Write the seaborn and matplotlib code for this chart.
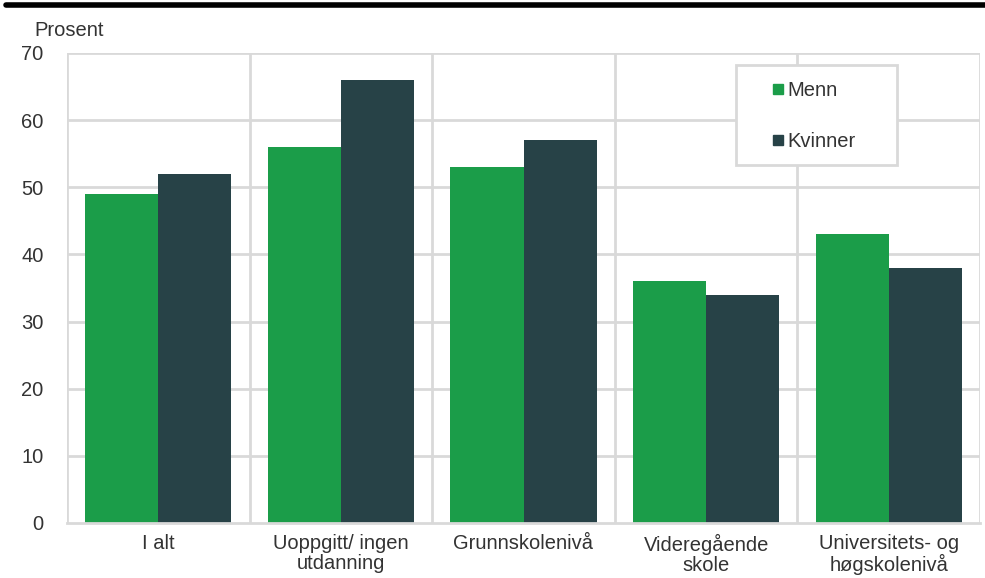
import matplotlib
matplotlib.use("Agg")
import matplotlib.pyplot as plt
import seaborn as sns
import pandas as pd
from matplotlib.lines import Line2D
from matplotlib.patches import Rectangle

categories = ["I alt", "Uoppgitt/ ingen\nutdanning", "Grunnskolenivå", "Videregående\nskole", "Universitets- og\nhøgskolenivå"]
menn = [49, 56, 53, 36, 43]
kvinner = [52, 66, 57, 34, 38]
series = ["Menn", "Kvinner"]
colors = ["#1b9d49", "#274247"]
yticks = [0, 10, 20, 30, 40, 50, 60, 70]

df = pd.DataFrame({
    "Kategori": categories * 2,
    "Verdi": menn + kvinner,
    "Kjønn": [series[0]] * len(categories) + [series[1]] * len(categories),
})

sns.set_style("white")
plt.rcParams["font.family"] = ["Liberation Sans", "DejaVu Sans"]
grid_c = "#d9d9d9"
txt_c = "#333333"
fs = 14.5

W, H = 985, 578
fig = plt.figure(figsize=(W/100, H/100), dpi=100)
ax = fig.add_axes([67/W, 1 - 523/H, (980-67)/W, (523-53)/H])

sns.barplot(data=df, x="Kategori", y="Verdi", hue="Kjønn", palette=colors,
            width=0.8, saturation=1, ax=ax, zorder=3, legend=False, linewidth=0)

ax.set_xlim(-0.5, len(categories) - 0.5)
ax.set_ylim(0, 70)
ax.set_yticks(yticks)
for y in yticks[1:]:
    ax.axhline(y, color=grid_c, lw=2, zorder=1)
for x in range(len(categories) + 1):
    ax.axvline(x - 0.5, color=grid_c, lw=2, zorder=1)
for s in ["top", "right", "left"]:
    ax.spines[s].set_visible(False)
ax.spines["bottom"].set_color(grid_c)
ax.spines["bottom"].set_linewidth(2)
ax.spines["bottom"].set_zorder(4)

ax.set_xlabel("")
ax.set_ylabel("")
ax.tick_params(axis="both", length=0, labelsize=fs, colors=txt_c)
ax.tick_params(axis="y", pad=17)
ax.tick_params(axis="x", pad=8)
for lbl in ax.get_xticklabels():
    lbl.set_linespacing(1.05)

fig.text(69/W, 1 - 31/H, "Prosent", fontsize=fs, color=txt_c, ha="center", va="center")

# legend box drawn as a figure-level rectangle
fig.add_artist(Rectangle((736/W, 1 - 165/H), (897-736)/W, (165-65)/H, transform=fig.transFigure,
                         facecolor="white", edgecolor=grid_c, lw=2, zorder=5))
handles = [Line2D([0], [0], marker="s", linestyle="none", markersize=7.5,
                  markerfacecolor=c, markeredgecolor=c) for c in colors]
leg = fig.legend(handles, series, loc="upper left", bbox_to_anchor=(773/W, 1 - 81/H),
                 frameon=False, fontsize=fs, handlelength=0.5, handletextpad=0.2,
                 labelspacing=1.6, borderpad=0, borderaxespad=0)
leg.set_zorder(6)
for t in leg.get_texts():
    t.set_color(txt_c)

fig.add_artist(Line2D([6/W, 1], [1 - 5/H, 1 - 5/H], color="black", lw=4, transform=fig.transFigure))

fig.savefig("out.png", dpi=100)
